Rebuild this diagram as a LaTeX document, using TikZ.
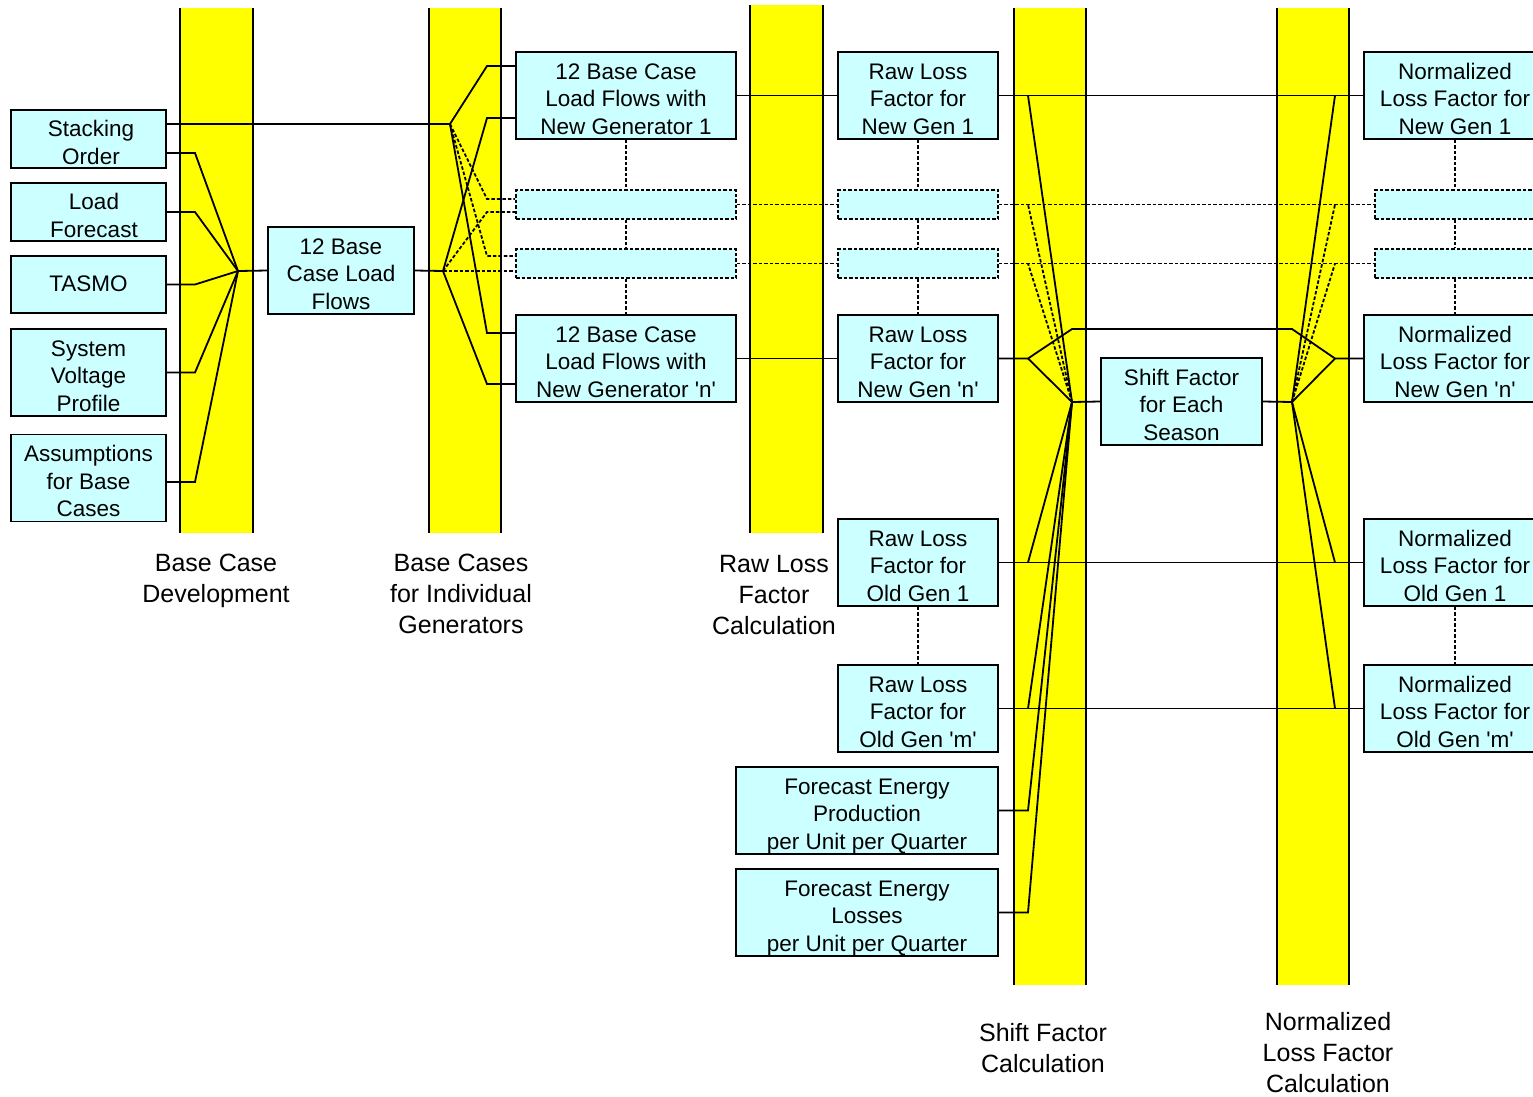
\documentclass[tikz,border=0pt]{standalone}
\usepackage{fontspec}
\setmainfont{Liberation Sans}
\definecolor{boxcyan}{HTML}{CCFFFF}
\definecolor{baryellow}{HTML}{FFFF00}
\newcommand{\sq}{\textquotesingle}

\begin{document}
\begin{tikzpicture}[x=1pt, y=-1pt,
    box/.style={draw, line width=1.8pt, fill=boxcyan, inner sep=0pt, align=center,
        font=\fontsize{22.5}{27.5}\selectfont, minimum height=87pt,
        text height=77pt, text depth=0pt},
    twoline/.style={box, minimum height=58pt, text height=50pt},
    oneline/.style={box, minimum height=57pt, text height=13pt},
    dbox/.style={draw, line width=1.8pt, fill=boxcyan, inner sep=0pt,
        dash pattern=on 3.5pt off 2pt, minimum height=29pt},
    link/.style={line width=1.8pt},
    dlink/.style={line width=1.8pt, dash pattern=on 3.5pt off 2pt},
    caption/.style={align=center, font=\fontsize{25}{31}\selectfont}]
    \useasboundingbox (0,0) rectangle (1533,1096);

    % Yellow process columns
    \foreach \xa/\xb/\ya/\yb in {180/253/8/533, 429/501/8/533, 750/823/5/533,
                                 1014/1086/8/985, 1277/1349/8/985} {
        \fill[baryellow] (\xa,\ya) rectangle (\xb,\yb);
        \draw[link] (\xa,\ya) -- (\xa,\yb) (\xb,\ya) -- (\xb,\yb);
    }

    % Hubs and bend lines
    \coordinate (h1) at (238,271);
    \coordinate (h2a) at (450,124);
    \coordinate (h2b) at (443,271);
    \coordinate (h4) at (1072,402);
    \coordinate (h5) at (1292,402);
    \coordinate (k1) at (195,0);
    \coordinate (k2) at (487,0);
    \coordinate (k4) at (1028,0);
    \coordinate (k5) at (1335,0);
    \coordinate (d1) at (1072,329);
    \coordinate (d2) at (1292,329);

    % Inputs
    \node (so) at (88.5,139) [twoline, minimum width=155pt] {\hspace*{5pt}Stacking\\\hspace*{5pt}Order};
    \node (lf) at (88.5,212) [twoline, minimum width=155pt] {\hspace*{11pt}Load\\\hspace*{11pt}Forecast};
    \node (tasmo) at (88.5,284.5) [oneline, minimum width=155pt] {TASMO};
    \node (svp) at (88.5,372.5) [box, minimum width=155pt] {System\\Voltage\\Profile};
    \node (abc) at (88.5,478) [box, minimum width=155pt] {Assumptions\\for Base\\Cases};
    \node (bclf) at (341,270.5) [box, minimum width=146pt] {12 Base\\Case Load\\Flows};

    % Base cases for individual generators
    \node (ng1) at (626,95.5) [box, minimum width=220pt] {12 Base Case\\Load Flows with\\New Generator 1};
    \node (ngd1) at (626,204.5) [dbox, minimum width=220pt] {};
    \node (ngd2) at (626,263.5) [dbox, minimum width=220pt] {};
    \node (ngn) at (626,358.5) [box, minimum width=220pt] {12 Base Case\\Load Flows with\\New Generator \sq n\sq};

    % Raw loss factors
    \node (rl1) at (918,95.5) [box, minimum width=160pt] {Raw Loss\\Factor for\\New Gen 1};
    \node (rld1) at (918,204.5) [dbox, minimum width=160pt] {};
    \node (rld2) at (918,263.5) [dbox, minimum width=160pt] {};
    \node (rln) at (918,358.5) [box, minimum width=160pt] {Raw Loss\\Factor for\\New Gen \sq n\sq};
    \node (rlo1) at (918,562.5) [box, minimum width=160pt] {Raw Loss\\Factor for\\Old Gen 1};
    \node (rlom) at (918,708.5) [box, minimum width=160pt] {Raw Loss\\Factor for\\Old Gen \sq m\sq};
    \node (fep) at (867,810.5) [box, minimum width=262pt] {Forecast Energy\\Production\\per Unit per Quarter};
    \node (fel) at (867,912.5) [box, minimum width=262pt] {Forecast Energy\\Losses\\per Unit per Quarter};

    % Shift factor
    \node (sf) at (1181.5,401.5) [box, minimum width=161pt] {Shift Factor\\for Each\\Season};

    % Normalized loss factors (cut by the right edge)
    \node (nl1) at (1455,95.5) [box, minimum width=182pt] {Normalized\\Loss Factor for\\New Gen 1};
    \node (nld1) at (1455,204.5) [dbox, minimum width=160pt] {};
    \node (nld2) at (1455,263.5) [dbox, minimum width=160pt] {};
    \node (nln) at (1455,358.5) [box, minimum width=182pt] {Normalized\\Loss Factor for\\New Gen \sq n\sq};
    \node (nlo1) at (1455,562.5) [box, minimum width=182pt] {Normalized\\Loss Factor for\\Old Gen 1};
    \node (nlom) at (1455,708.5) [box, minimum width=182pt] {Normalized\\Loss Factor for\\Old Gen \sq m\sq};

    % Column 1 connectors
    \draw[link] ([yshift=-14pt]so.east) -- ([yshift=-14pt]so.east -| k1) -- (h1);
    \draw[link] (lf.east) -- (lf.east -| k1) -- (h1);
    \draw[link] (tasmo.east) -- (tasmo.east -| k1) -- (h1);
    \draw[link] (svp.east) -- (svp.east -| k1) -- (h1);
    \draw[link] ([yshift=-4pt]abc.east) -- ([yshift=-4pt]abc.east -| k1) -- (h1);
    \draw[link] (h1) -- (bclf.west);

    % Column 2 connectors
    \draw[link] ([yshift=15pt]so.east) -- (h2a);
    \draw[link] (bclf.east) -- (h2b);
    \draw[link] (h2a) -- ([yshift=29.5pt]ng1.west -| k2) -- ([yshift=29.5pt]ng1.west);
    \draw[link] (h2b) -- ([yshift=-22.5pt]ng1.west -| k2) -- ([yshift=-22.5pt]ng1.west);
    \draw[dlink] (h2a) -- ([yshift=5.5pt]ngd1.west -| k2) -- ([yshift=5.5pt]ngd1.west);
    \draw[dlink] (h2b) -- ([yshift=-7.5pt]ngd1.west -| k2) -- ([yshift=-7.5pt]ngd1.west);
    \draw[dlink] (h2a) -- ([yshift=7.5pt]ngd2.west -| k2) -- ([yshift=7.5pt]ngd2.west);
    \draw[dlink] (h2b) -- (ngd2.west |- h2b);
    \draw[link] (h2a) -- ([yshift=25.5pt]ngn.west -| k2) -- ([yshift=25.5pt]ngn.west);
    \draw[link] (h2b) -- ([yshift=-25.5pt]ngn.west -| k2) -- ([yshift=-25.5pt]ngn.west);

    % Dotted stacks
    \draw[dlink] (ng1.south) -- (ngd1.north) (ngd1.south) -- (ngd2.north) (ngd2.south) -- (ngn.north);
    \draw[dlink] (rl1.south) -- (rld1.north) (rld1.south) -- (rld2.north) (rld2.south) -- (rln.north);
    \draw[dlink] (nl1.south) -- (nld1.north) (nld1.south) -- (nld2.north) (nld2.south) -- (nln.north);
    \draw[dlink] (rlo1.south) -- (rlom.north);
    \draw[dlink] (nlo1.south) -- (nlom.north);

    % Base cases to raw loss factors
    \draw[link] (ng1.east) -- (rl1.west);
    \draw[dlink] (ngd1.east) -- (rld1.west);
    \draw[dlink] (ngd2.east) -- (rld2.west);
    \draw[link] (ngn.east) -- (rln.west);

    % Raw to normalized, straight through
    \draw[link] (rl1.east) -- (nl1.west);
    \draw[dlink] (rld1.east) -- (nld1.west);
    \draw[dlink] (rld2.east) -- (nld2.west);
    \draw[link] (rlo1.east) -- (nlo1.west);
    \draw[link] (rlom.east) -- (nlom.west);
    \draw[link] (rln.east) -- (rln.east -| k4) -- (d1) -- (d2) -- (nln.west -| k5) -- (nln.west);

    % Into the shift factor
    \draw[link] (h4) -- (rl1.east -| k4);
    \draw[dlink] (h4) -- (rld1.east -| k4);
    \draw[dlink] (h4) -- (rld2.east -| k4);
    \draw[link] (h4) -- (rln.east -| k4);
    \draw[link] (h4) -- (rlo1.east -| k4);
    \draw[link] (h4) -- (rlom.east -| k4);
    \draw[link] (fep.east) -- (fep.east -| k4) -- (h4);
    \draw[link] (fel.east) -- (fel.east -| k4) -- (h4);
    \draw[link] (h4) -- (sf.west);
    \draw[link] (sf.east) -- (h5);

    % Out of the shift factor
    \draw[link] (h5) -- (nl1.west -| k5);
    \draw[dlink] (h5) -- (nld1.west -| k5);
    \draw[dlink] (h5) -- (nld2.west -| k5);
    \draw[link] (h5) -- (nln.west -| k5);
    \draw[link] (h5) -- (nlo1.west -| k5);
    \draw[link] (h5) -- (nlom.west -| k5);

    % Column captions
    \node (cap1) at (216,581) [caption] {Base Case\\Development};
    \node (cap2) at (461,594) [caption] {Base Cases\\for Individual\\Generators};
    \node (cap3) at (774,595) [caption] {Raw Loss\\Factor\\Calculation};
    \node (cap4) at (1043,1048) [caption] {Shift Factor\\Calculation};
    \node (cap5) at (1328,1053) [caption] {Normalized\\Loss Factor\\Calculation};
\end{tikzpicture}
\end{document}
